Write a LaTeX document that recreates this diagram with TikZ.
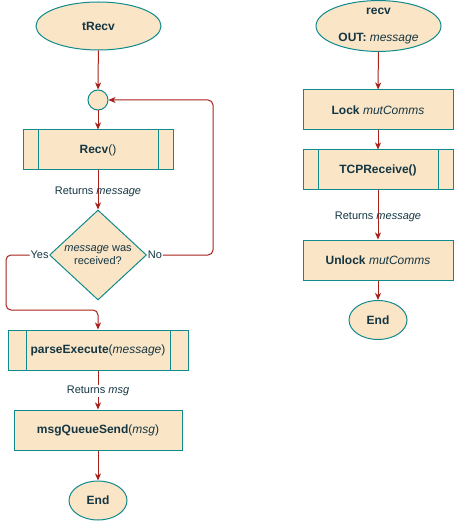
\documentclass[tikz,border=0pt]{standalone}
\usepackage{fontspec}
\setmainfont{Liberation Sans}
\usetikzlibrary{arrows.meta,shapes.geometric}
\definecolor{fillc}{HTML}{FAE5C7}
\definecolor{strokec}{HTML}{0F8B8D}
\definecolor{edgec}{HTML}{A8201A}
\definecolor{textc}{HTML}{143642}
\begin{document}
\begin{tikzpicture}[x=1pt,y=-1pt,
  base/.style={draw=strokec, fill=fillc, text=textc, line width=1pt,
    font=\fontsize{12}{14}\selectfont, inner sep=0pt, align=center},
  term/.style={base, ellipse},
  proc/.style={base, rectangle, minimum width=150pt, minimum height=40pt},
  pproc/.style={proc, path picture={
    \draw[strokec, line width=1pt]
      ([xshift=#1]path picture bounding box.north west) -- ([xshift=#1]path picture bounding box.south west)
      ([xshift=-#1]path picture bounding box.north east) -- ([xshift=-#1]path picture bounding box.south east);}},
  pproc/.default=15pt,
  dec/.style={base, diamond, minimum width=97pt, minimum height=90pt},
  conn/.style={draw=edgec, line width=1pt, rounded corners=5pt,
    -{Stealth[length=7pt,width=6pt,inset=2pt]}},
  lbl/.style={text=textc, font=\fontsize{11}{13}\selectfont, inner sep=1pt},
  lblw/.style={lbl, fill=white}
]
\useasboundingbox (0,0) rectangle (455,521);

% left column
\node[term, minimum width=125pt, minimum height=48pt] (trecv) at (98.5,26) {\bfseries tRecv};
\node[base, circle, minimum size=20pt] (merge) at (98,100) {};
\node[pproc] (recvc) at (98,150) {\textbf{Recv}()};
\node[dec, label={[lbl, align=center]center:\textit{message} was\\received?}] (dec) at (98,255) {};
\node[pproc=18pt, minimum width=180pt] (parse) at (98,350) {\textbf{parseExecute}(\textit{message})};
\node[proc, minimum width=168pt] (mqs) at (98,430) {\textbf{msgQueueSend}(\textit{msg})};
\node[term, minimum width=58pt, minimum height=39pt] (end1) at (98,500.5) {\bfseries End};

\draw[conn] (trecv) -- (merge);
\draw[conn] (merge) -- (recvc);
\draw[conn] (recvc) -- node[lbl, pos=0.5, yshift=-1.5pt] (l1) {Returns \textit{message}} (dec);
\draw[conn] (dec.east) -- node[lblw, pos=0.12] (no) {No} ++(66,0) |- (merge.east);
\draw[conn] (dec.west) -- node[lblw, pos=0.22] (yes) {Yes} ++(-43,0) -- ++(0,55) -| (parse.north);
\draw[conn] (parse) -- node[lblw, pos=0.5, yshift=-1pt] (l2) {Returns \textit{msg}} (mqs);
\draw[conn] (mqs) -- (end1);

% right column
\node[term, minimum width=125pt, minimum height=48pt] (recvf) at (378.5,26)
  {\textbf{recv}\\[13pt]\textbf{OUT:} \textit{message}};
\node[proc] (lock) at (378,110) {\textbf{Lock} \textit{mutComms}};
\node[pproc] (tcp) at (378,170) {\textbf{TCPReceive()}};
\node[proc] (unlock) at (378,260) {\textbf{Unlock} \textit{mutComms}};
\node[term, minimum width=58pt, minimum height=39pt] (end2) at (378,320) {\bfseries End};

\draw[conn] (recvf) -- (lock);
\draw[conn] (lock) -- (tcp);
\draw[conn] (tcp) -- node[lbl, pos=0.5, yshift=-2pt] (l3) {Returns \textit{message}} (unlock);
\draw[conn] (unlock) -- (end2);
\end{tikzpicture}
\end{document}
